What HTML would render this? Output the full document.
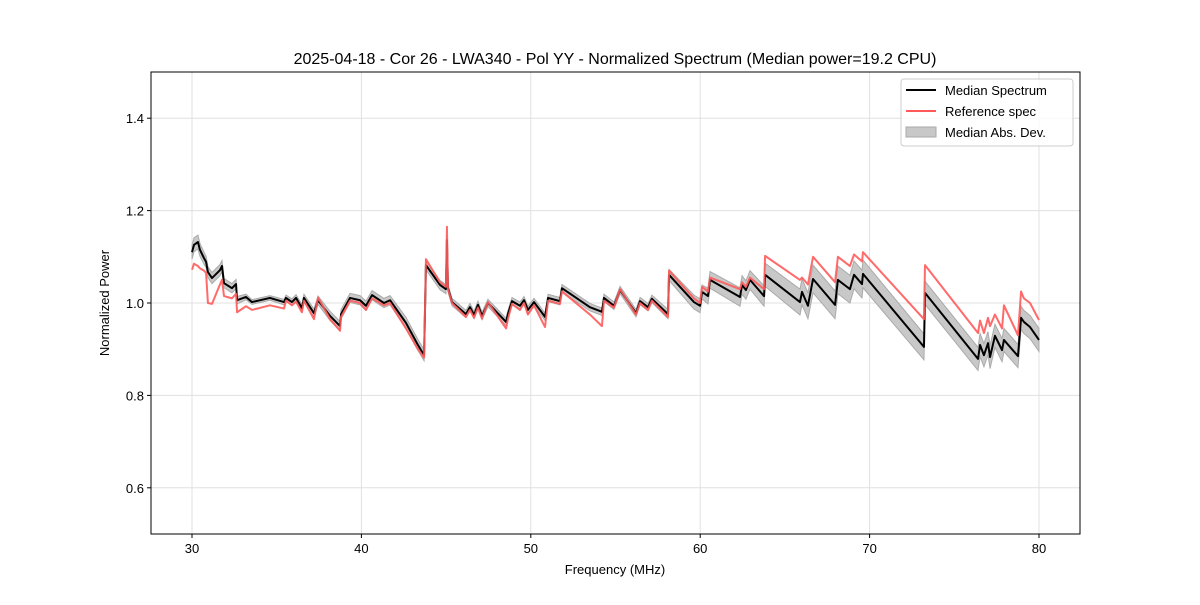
<!DOCTYPE html>
<html><head><meta charset="utf-8"><style>
body{margin:0;background:#fff;}
svg text{font-family:"Liberation Sans","DejaVu Sans",sans-serif;}
</style></head><body>
<svg id="chart" width="1200" height="600" xmlns="http://www.w3.org/2000/svg">
<rect width="1200" height="600" fill="#fff"/>
<text x="615" y="64" font-size="16" text-anchor="middle">2025-04-18 - Cor 26 - LWA340 - Pol YY - Normalized Spectrum (Median power=19.2 CPU)</text>
<g id="grid"></g>
<g id="marks"></g>
<rect x="151" y="72" width="929" height="462" fill="none" stroke="#000" stroke-width="1"/>
<g id="axes"></g>
<text x="615" y="574" font-size="13" text-anchor="middle">Frequency (MHz)</text>
<text transform="translate(109,303) rotate(-90)" font-size="13" text-anchor="middle">Normalized Power</text>
<g>
<rect x="901" y="79" width="172" height="67" rx="3" fill="#fff" fill-opacity="0.8" stroke="#ccc"/>
<line x1="906" y1="90" x2="936" y2="90" stroke="#000" stroke-width="2"/>
<text x="945" y="95" font-size="13">Median Spectrum</text>
<line x1="906" y1="111" x2="936" y2="111" stroke="#ff5a5a" stroke-width="2"/>
<text x="945" y="116" font-size="13">Reference spec</text>
<rect x="906" y="127" width="30" height="10" fill="#c8c8c8" stroke="#aaa"/>
<text x="945" y="137" font-size="13">Median Abs. Dev.</text>
</g>
</svg>
<script>
const freqs=[30.00,30.12,30.35,30.47,30.71,30.83,30.94,31.18,31.65,31.77,31.89,32.36,32.60,32.66,33.19,33.54,34.60,35.43,35.55,35.90,36.14,36.49,36.61,37.20,37.44,38.15,38.74,38.80,39.33,39.92,40.27,40.63,41.33,41.69,42.63,43.34,43.70,43.81,44.64,44.99,45.05,45.11,45.35,46.17,46.41,46.65,46.88,47.12,47.47,48.54,48.65,48.89,49.36,49.60,49.83,50.19,50.84,51.02,51.72,51.84,53.49,54.20,54.32,54.91,55.27,56.21,56.45,56.92,57.15,58.10,58.16,59.63,59.99,60.11,60.46,60.58,62.35,62.47,62.70,62.94,63.77,63.83,65.89,66.01,66.36,66.66,67.96,68.13,68.84,69.08,69.55,69.61,73.21,73.27,76.40,76.52,76.75,76.99,77.11,77.40,77.82,77.93,78.76,78.94,79.11,79.47,80.00];
const median=[1.110,1.126,1.132,1.115,1.097,1.089,1.067,1.054,1.071,1.080,1.043,1.032,1.041,1.006,1.013,1.002,1.011,1.002,1.011,1.002,1.011,0.989,1.011,0.978,1.006,0.972,0.950,0.976,1.011,1.006,0.994,1.017,1.000,1.006,0.957,0.909,0.887,1.082,1.039,1.030,1.136,1.032,1.002,0.976,0.991,0.974,0.996,0.972,1.000,0.959,0.976,1.004,0.994,1.006,0.985,1.002,0.970,1.011,1.004,1.032,0.991,0.981,1.011,0.994,1.028,0.978,1.004,0.991,1.009,0.976,1.061,1.002,0.994,1.024,1.015,1.050,1.013,1.039,1.028,1.050,1.015,1.061,1.002,1.024,0.994,1.052,0.996,1.050,1.030,1.061,1.041,1.063,0.905,1.022,0.879,0.909,0.887,0.913,0.883,0.929,0.898,0.920,0.885,0.968,0.959,0.948,0.920];
const reference=[1.072,1.085,1.080,1.075,1.070,1.065,1.000,0.998,1.040,1.050,1.015,1.010,1.020,0.980,0.993,0.985,0.995,0.988,1.005,0.995,1.003,0.980,1.005,0.965,1.012,0.965,0.940,0.970,1.005,1.000,0.985,1.010,0.995,1.000,0.945,0.900,0.882,1.095,1.045,1.035,1.165,1.030,1.000,0.970,0.985,0.968,0.990,0.966,1.002,0.945,0.965,0.998,0.985,1.000,0.975,0.995,0.948,1.005,0.998,1.025,0.975,0.950,1.005,0.990,1.030,0.975,1.000,0.985,1.005,0.970,1.070,1.010,1.000,1.035,1.025,1.055,1.030,1.045,1.035,1.055,1.030,1.102,1.050,1.055,1.040,1.100,1.045,1.100,1.080,1.105,1.090,1.110,0.965,1.082,0.935,0.962,0.935,0.968,0.950,0.975,0.945,0.995,0.930,1.025,1.010,1.000,0.963];
const mad=[0.015,0.015,0.015,0.014,0.013,0.012,0.012,0.012,0.012,0.012,0.010,0.010,0.010,0.008,0.006,0.005,0.005,0.006,0.006,0.007,0.007,0.008,0.008,0.009,0.009,0.010,0.010,0.010,0.010,0.010,0.010,0.010,0.010,0.010,0.012,0.012,0.012,0.010,0.010,0.010,0.010,0.008,0.008,0.008,0.008,0.008,0.008,0.008,0.008,0.008,0.008,0.008,0.008,0.008,0.008,0.008,0.008,0.008,0.008,0.008,0.008,0.008,0.008,0.008,0.008,0.008,0.008,0.008,0.008,0.010,0.012,0.015,0.015,0.015,0.017,0.018,0.020,0.020,0.020,0.020,0.022,0.025,0.028,0.028,0.028,0.030,0.030,0.030,0.030,0.030,0.030,0.030,0.028,0.025,0.025,0.025,0.025,0.025,0.025,0.025,0.025,0.025,0.025,0.025,0.025,0.025,0.025];
const xTicks=[30,40,50,60,70,80];
const yTicks=[0.6,0.8,1.0,1.2,1.4];
const NS='http://www.w3.org/2000/svg';
const X=f=>192+(f-30)*(1039-192)/50;
const Y=v=>534-(v-0.5)*462;
function el(t,a,p){const e=document.createElementNS(NS,t);for(const k in a)e.setAttribute(k,a[k]);p.appendChild(e);return e;}
const grid=document.getElementById('grid'),axes=document.getElementById('axes'),marks=document.getElementById('marks');
xTicks.forEach(t=>{
 const g=el('line',{x1:X(t),x2:X(t),y1:72,y2:534,stroke:'#e0e0e0','stroke-width':1},grid);
 
 
 el('line',{x1:X(t),x2:X(t),y1:534,y2:538,stroke:'#000'},axes);
 const tx=el('text',{x:X(t),y:553,'font-size':13,'text-anchor':'middle'},axes);tx.textContent=t;
 
 
});
yTicks.forEach(t=>{
 const g=el('line',{x1:151,x2:1080,y1:Y(t),y2:Y(t),stroke:'#e0e0e0','stroke-width':1},grid);
 
 
 el('line',{x1:147,x2:151,y1:Y(t),y2:Y(t),stroke:'#000'},axes);
 const tx=el('text',{x:144,y:Y(t)+5,'font-size':13,'text-anchor':'end'},axes);tx.textContent=t.toFixed(1);
 
 
});
let up=freqs.map((f,i)=>X(f)+','+Y(median[i]+mad[i]));
let dn=freqs.map((f,i)=>X(f)+','+Y(median[i]-mad[i])).reverse();
const band=el('polygon',{points:up.concat(dn).join(' '),fill:'#c8c8c8',stroke:'#aaa','stroke-width':1},marks);


const med=el('polyline',{points:freqs.map((f,i)=>X(f)+','+Y(median[i])).join(' '),fill:'none',stroke:'#000','stroke-width':2,'stroke-linejoin':'round'},marks);


const ref=el('polyline',{points:freqs.map((f,i)=>X(f)+','+Y(reference[i])).join(' '),fill:'none',stroke:'#ff5a5a','stroke-width':2,'stroke-opacity':0.9,'stroke-linejoin':'round'},marks);


</script>
</body></html>
